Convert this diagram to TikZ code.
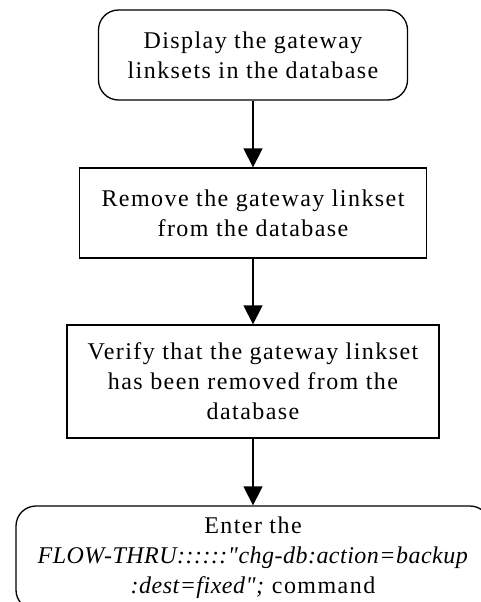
\documentclass[tikz,border=0pt]{standalone}
\usepackage{fontspec}
\setmainfont[LetterSpace=6, Ligatures=TeXOff,
  ItalicFeatures={LetterSpace=2}]{Liberation Serif}
\usetikzlibrary{arrows.meta}
\newcommand{\boxfont}{\fontsize{24pt}{30pt}\selectfont}
\tikzset{
  term/.style={draw, rounded corners=20pt, line width=1.3pt, align=center,
               inner sep=0pt, font=\boxfont},
  proc/.style={draw, line width=1.3pt, align=center,
               inner sep=0pt, font=\boxfont},
  call/.style={-{Triangle[length=19pt, width=19pt]}, line width=1.3pt},
}

\begin{document}
\begin{tikzpicture}[x=1pt, y=1pt]
  \useasboundingbox (0,0) rectangle (481,-602);

  %% flow steps
  \node[term, minimum width=309pt, minimum height=90pt] (disp) at (253,-55) {%
    Display the gateway\\ linksets in the database};
  \node[proc, minimum width=347pt, minimum height=90pt] (rem) at (253,-213) {%
    Remove the gateway linkset\\ from the database};
  \node[proc, minimum width=372pt, minimum height=113pt] (ver) at (253,-381.5) {%
    Verify that the gateway linkset\\ has been removed from the\\ database};
  \node[term, minimum width=474pt, minimum height=104pt] (bkup) at (253,-558) {%
    Enter the\\ \textit{FLOW-THRU::::::"chg-db:action=backup}\\
    \textit{:dest=fixed";} command};

  \draw[call] (disp) -- (rem);
  \draw[call] (rem) -- (ver);
  \draw[call] (ver) -- (bkup);
\end{tikzpicture}
\end{document}
